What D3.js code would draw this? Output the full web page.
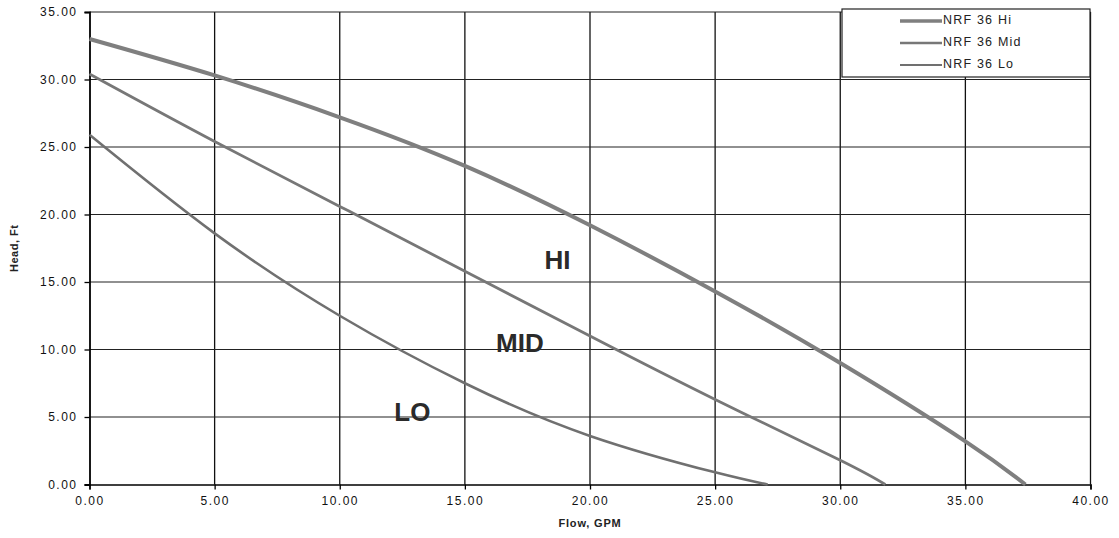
<!DOCTYPE html>
<html>
<head>
<meta charset="utf-8">
<script src="https://cdn.jsdelivr.net/npm/d3@7"></script>
<style>
  body { margin: 0; background: #fff; }
  text { font-family: "Liberation Sans", Arial, sans-serif; }
</style>
</head>
<body>
<div id="chart"></div>
<script>
// pump curves
const seriesNames = ["NRF 36 Hi", "NRF 36 Mid", "NRF 36 Lo"];
const hiFlow = [0, 5, 10, 15, 20, 25, 30, 35, 37.4];
const hiHead = [33.0, 30.3, 27.2, 23.6, 19.2, 14.3, 9.0, 3.2, 0];
const midFlow = [0, 5, 10, 15, 20, 25, 30, 31.8];
const midHead = [30.4, 25.4, 20.6, 15.8, 11.0, 6.3, 1.8, 0];
const loFlow = [0, 5, 10, 15, 20, 25, 27.1];
const loHead = [25.9, 18.6, 12.5, 7.5, 3.6, 0.9, 0];
const xTicks = [0, 5, 10, 15, 20, 25, 30, 35, 40];
const yTicks = [0, 5, 10, 15, 20, 25, 30, 35];
const curveLabels = [{t: "HI", x: 18.7, y: 16.5}, {t: "MID", x: 17.2, y: 10.3}, {t: "LO", x: 12.9, y: 5.2}];

const W = 1119, H = 538;
const mLeft = 89.5, mRight = 1090.5, mTop = 12, mBottom = 484.5;

let svg = d3.select("#chart").append("svg")
  .attr("width", W).attr("height", H);

let x = d3.scaleLinear().domain([0, 40]).range([mLeft, mRight]);
let y = d3.scaleLinear().domain([0, 35]).range([mBottom, mTop]);

// grid
svg.append("g").selectAll("line").data(xTicks.slice(1)).enter().append("line")
  .attr("x1", d => x(d)).attr("x2", d => x(d))
  .attr("y1", mTop).attr("y2", mBottom)
  .attr("stroke", "#111").attr("stroke-width", 1.3);
svg.append("g").selectAll("line").data(yTicks.slice(1)).enter().append("line")
  .attr("x1", mLeft).attr("x2", mRight)
  .attr("y1", d => y(d)).attr("y2", d => y(d))
  .attr("stroke", "#222").attr("stroke-width", 1.1);

// axes
let xAxis = d3.axisBottom(x).tickValues(xTicks).tickSize(5).tickPadding(7)
  .tickFormat(d3.format(".2f"));
let yAxis = d3.axisLeft(y).tickValues(yTicks).tickSize(5).tickPadding(7)
  .tickFormat(d3.format(".2f"));

svg.append("g").attr("transform", `translate(0,${mBottom})`).call(xAxis)
  .call(g => g.select(".domain").attr("stroke", "#000").attr("stroke-width", 1.5))
  .call(g => g.selectAll(".tick line").attr("stroke", "#000").attr("stroke-width", 1.3))
  .call(g => g.selectAll("text").attr("font-size", 12).attr("letter-spacing", "1.5px")
    .attr("fill", "#111").attr("font-family", "Liberation Sans, Arial"));

svg.append("g").attr("transform", `translate(${mLeft},0)`).call(yAxis)
  .call(g => g.select(".domain").attr("stroke", "#000").attr("stroke-width", 1.8))
  .call(g => g.selectAll(".tick line").attr("stroke", "#000").attr("stroke-width", 1.3))
  .call(g => g.selectAll("text").attr("font-size", 12).attr("letter-spacing", "1.5px")
    .attr("fill", "#111").attr("font-family", "Liberation Sans, Arial"));

// axis titles
svg.append("text").attr("x", x(20)).attr("y", 527)
  .attr("text-anchor", "middle").attr("font-size", 11).attr("font-weight", "bold")
  .attr("letter-spacing", "0.8px").attr("fill", "#222").text("Flow, GPM");
svg.append("text").attr("transform", `translate(18,${y(17.5)}) rotate(-90)`)
  .attr("text-anchor", "middle").attr("font-size", 11).attr("font-weight", "bold")
  .attr("letter-spacing", "0.5px").attr("fill", "#222").text("Head, Ft");

// curves
let line = d3.line().x(d => x(d[0])).y(d => y(d[1])).curve(d3.curveNatural);
let series = [
  {pts: d3.zip(hiFlow, hiHead), w: 4, c: "#7f7f7f"},
  {pts: d3.zip(midFlow, midHead), w: 2.8, c: "#777"},
  {pts: d3.zip(loFlow, loHead), w: 2.6, c: "#707070"}
];
svg.append("g").selectAll("path").data(series).enter().append("path")
  .attr("d", d => line(d.pts))
  .attr("fill", "none").attr("stroke", d => d.c).attr("stroke-width", d => d.w);

// curve labels
svg.append("g").selectAll("text").data(curveLabels).enter().append("text")
  .attr("x", d => x(d.x)).attr("y", d => y(d.y))
  .attr("text-anchor", "middle").attr("dominant-baseline", "middle")
  .attr("font-family", "Open Sans, sans-serif").attr("font-weight", "bold")
  .attr("font-size", 26).attr("fill", "#2a2a2a").text(d => d.t);

// legend
let lg = svg.append("g");
lg.append("rect").attr("x", 842).attr("y", 9).attr("width", 248).attr("height", 68)
  .attr("fill", "#fff").attr("stroke", "#222").attr("stroke-width", 1.2);
let rows = lg.selectAll("g").data(seriesNames).enter().append("g")
  .attr("transform", (d, i) => `translate(0,${21 + i * 22})`);
rows.append("line").attr("x1", 900).attr("x2", 942).attr("y1", 0).attr("y2", 0)
  .attr("stroke", (d, i) => series[i].c).attr("stroke-width", (d, i) => series[i].w - 0.5);
rows.append("text").attr("x", 943).attr("y", 0).attr("dominant-baseline", "middle")
  .attr("font-size", 12.5).attr("letter-spacing", "1.2px").attr("fill", "#222")
  .text(d => d);
</script>
</body>
</html>
